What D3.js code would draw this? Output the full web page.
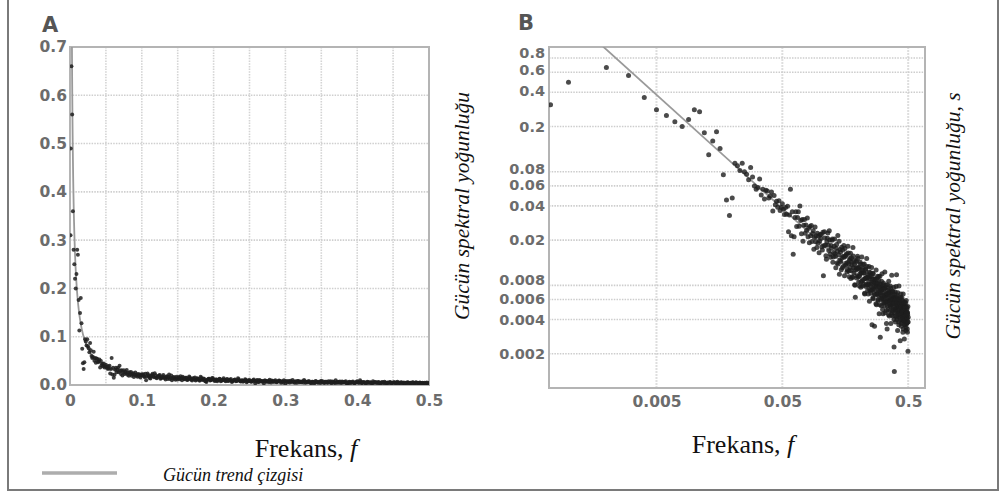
<!DOCTYPE html>
<html><head><meta charset="utf-8">
<script src="https://cdn.jsdelivr.net/npm/d3@7"></script>
<style>
html,body{margin:0;padding:0;background:#fff;}
svg{display:block;}
</style></head><body>
<svg id="chart" width="1001" height="492"></svg>
<script>
// ---------- data ----------
const freq = [
0.00072,
0.001,0.002,0.003,0.004,0.005,0.006,0.007,0.008,0.009,0.010,
0.011,0.012,0.013,0.014,0.015,0.016,0.017,0.018,0.019,0.020,
0.021,0.022,0.023,0.024,0.025,0.026,0.027,0.028,0.029,0.030,
0.031,0.032,0.033,0.034,0.035,0.036,0.037,0.038,0.039,0.040,
0.041,0.042,0.043,0.044,0.045,0.046,0.047,0.048,0.049,0.050,
0.051,0.052,0.053,0.054,0.055,0.056,0.057,0.058,0.059,0.060,
0.061,0.062,0.063,0.064,0.065,0.066,0.067,0.068,0.069,0.070,
0.071,0.072,0.073,0.074,0.075,0.076,0.077,0.078,0.079,0.080,
0.081,0.082,0.083,0.084,0.085,0.086,0.087,0.088,0.089,0.090,
0.091,0.092,0.093,0.094,0.095,0.096,0.097,0.098,0.099,0.100,
0.102,0.104,0.106,0.108,0.110,0.112,0.114,0.116,0.118,0.120,
0.122,0.124,0.126,0.128,0.130,0.132,0.134,0.136,0.138,0.140,
0.142,0.144,0.146,0.148,0.150,0.152,0.154,0.156,0.158,0.160,
0.162,0.164,0.166,0.168,0.170,0.172,0.174,0.176,0.178,0.180,
0.182,0.184,0.186,0.188,0.190,0.192,0.194,0.196,0.198,0.200,
0.202,0.204,0.206,0.208,0.210,0.212,0.214,0.216,0.218,0.220,
0.222,0.224,0.226,0.228,0.230,0.232,0.234,0.236,0.238,0.240,
0.242,0.244,0.246,0.248,0.250,0.252,0.254,0.256,0.258,0.260,
0.262,0.264,0.266,0.268,0.270,0.272,0.274,0.276,0.278,0.280,
0.282,0.284,0.286,0.288,0.290,0.292,0.294,0.296,0.298,0.300,
0.302,0.304,0.306,0.308,0.310,0.312,0.314,0.316,0.318,0.320,
0.322,0.324,0.326,0.328,0.330,0.332,0.334,0.336,0.338,0.340,
0.342,0.344,0.346,0.348,0.350,0.352,0.354,0.356,0.358,0.360,
0.362,0.364,0.366,0.368,0.370,0.372,0.374,0.376,0.378,0.380,
0.382,0.384,0.386,0.388,0.390,0.392,0.394,0.396,0.398,0.400,
0.402,0.404,0.406,0.408,0.410,0.412,0.414,0.416,0.418,0.420,
0.422,0.424,0.426,0.428,0.430,0.432,0.434,0.436,0.438,0.440,
0.442,0.444,0.446,0.448,0.450,0.452,0.454,0.456,0.458,0.460,
0.462,0.464,0.466,0.468,0.470,0.472,0.474,0.476,0.478,0.480,
0.482,0.484,0.486,0.488,0.490,0.492,0.494,0.496,0.498,0.500,
0.101,0.103,0.105,0.107,0.109,0.111,0.113,0.115,0.117,0.119,
0.121,0.123,0.125,0.127,0.129,0.131,0.133,0.135,0.137,0.139,
0.141,0.143,0.145,0.147,0.149,0.151,0.153,0.155,0.157,0.159,
0.161,0.163,0.165,0.167,0.169,0.171,0.173,0.175,0.177,0.179,
0.181,0.183,0.185,0.187,0.189,0.191,0.193,0.195,0.197,0.199,
0.201,0.203,0.205,0.207,0.209,0.211,0.213,0.215,0.217,0.219,
0.221,0.223,0.225,0.227,0.229,0.231,0.233,0.235,0.237,0.239,
0.241,0.243,0.245,0.247,0.249,0.251,0.253,0.255,0.257,0.259,
0.261,0.263,0.265,0.267,0.269,0.271,0.273,0.275,0.277,0.279,
0.281,0.283,0.285,0.287,0.289,0.291,0.293,0.295,0.297,0.299,
0.301,0.303,0.305,0.307,0.309,0.311,0.313,0.315,0.317,0.319,
0.321,0.323,0.325,0.327,0.329,0.331,0.333,0.335,0.337,0.339,
0.341,0.343,0.345,0.347,0.349,0.351,0.353,0.355,0.357,0.359,
0.361,0.363,0.365,0.367,0.369,0.371,0.373,0.375,0.377,0.379,
0.381,0.383,0.385,0.387,0.389,0.391,0.393,0.395,0.397,0.399,
0.401,0.403,0.405,0.407,0.409,0.411,0.413,0.415,0.417,0.419,
0.421,0.423,0.425,0.427,0.429,0.431,0.433,0.435,0.437,0.439,
0.441,0.443,0.445,0.447,0.449,0.451,0.453,0.455,0.457,0.459,
0.461,0.463,0.465,0.467,0.469,0.471,0.473,0.475,0.477,0.479,
0.481,0.483,0.485,0.487,0.489,0.491,0.493,0.495,0.497,0.499
];
const power = [
0.31,
0.49,0.66,0.56,0.36,0.28,0.25,0.22,0.20,0.23,0.28,
0.27,0.176,0.113,0.149,0.18,0.128,0.075,0.045,0.033,0.047,
0.095,0.09,0.082,0.095,0.08,0.076,0.068,0.087,0.072,0.060,
0.056,0.058,0.069,0.050,0.056,0.046,0.055,0.054,0.047,0.049,
0.053,0.036,0.0495,0.041,0.044,0.039,0.0445,0.0364,0.0388,0.0418,
0.0373,0.0336,0.0387,0.0338,0.0397,0.0237,0.0333,0.056,0.0219,0.0355,
0.015,0.0214,0.0317,0.0356,0.0263,0.0317,0.0355,0.0265,0.0399,0.0298,
0.0228,0.0304,0.0195,0.027,0.0304,0.023,0.0272,0.0244,0.0313,0.0214,
0.0254,0.019,0.0263,0.0219,0.0269,0.0194,0.0229,0.0242,0.0166,0.0211,
0.0261,0.0193,0.0218,0.0172,0.023,0.0188,0.0216,0.0155,0.0196,0.0224,
0.0224,0.0164,0.0097,0.0237,0.0181,0.0136,0.0208,0.018,0.0242,0.015,
0.0179,0.0199,0.0128,0.0156,0.0205,0.0144,0.017,0.0126,0.022,0.0149,
0.01,0.0165,0.013,0.0173,0.0114,0.0144,0.0179,0.0097,0.0144,0.0125,
0.0152,0.011,0.0177,0.0124,0.0095,0.0138,0.0153,0.0108,0.0128,0.0095,
0.0172,0.0114,0.0133,0.0081,0.0063,0.0114,0.0132,0.0097,0.0144,0.0114,
0.0085,0.0116,0.0097,0.0128,0.0077,0.0103,0.0142,0.0088,0.0113,0.0082,
0.0103,0.0123,0.0067,0.0092,0.0112,0.0082,0.0138,0.0093,0.0072,0.0099,
0.0082,0.0117,0.0058,0.0092,0.0103,0.0072,0.0082,0.0115,0.0036,0.0091,
0.0062,0.0101,0.0075,0.0085,0.0035,0.0091,0.0066,0.0079,0.0109,0.0054,
0.0084,0.0067,0.0096,0.0059,0.0079,0.0088,0.0045,0.0071,0.0096,0.0028,
0.0066,0.0081,0.0053,0.0074,0.0101,0.0061,0.0076,0.0045,0.0084,0.0065,
0.0056,0.0076,0.0105,0.0046,0.0066,0.0077,0.0057,0.0037,0.0067,0.0033,
0.0081,0.0058,0.0049,0.0068,0.0087,0.0059,0.0043,0.0069,0.0053,0.0079,
0.006,0.0037,0.007,0.0054,0.0098,0.0046,0.0061,0.0071,0.0043,0.0063,
0.0055,0.0077,0.0023,0.0014,0.0063,0.0049,0.007,0.0038,0.0057,0.0078,
0.005,0.0099,0.0042,0.0063,0.0053,0.0032,0.0069,0.0046,0.0057,0.0038,
0.0079,0.0049,0.0058,0.0042,0.0062,0.0026,0.0053,0.0046,0.0067,0.0035,
0.0054,0.0043,0.0062,0.0038,0.0049,0.0057,0.0031,0.0067,0.0046,0.0039,
0.0053,0.0043,0.0027,0.0049,0.0057,0.0036,0.0046,0.004,0.0052,0.0032,
0.0059,0.0043,0.0037,0.0049,0.0041,0.0033,0.0046,0.0038,0.0021,0.0042,
0.0207,0.0175,0.0235,0.0178,0.0209,0.0146,0.0193,0.0231,0.0162,0.02,
0.0141,0.017,0.0205,0.0142,0.0177,0.0152,0.0114,0.0183,0.016,0.0123,
0.0195,0.0133,0.0157,0.011,0.014,0.0164,0.0118,0.0141,0.0169,0.012,
0.0148,0.0105,0.0127,0.0154,0.0107,0.0133,0.0115,0.0092,0.014,0.0122,
0.0094,0.0145,0.0103,0.0122,0.008,0.0109,0.0128,0.0093,0.0111,0.0138,
0.0095,0.0112,0.0079,0.0101,0.0123,0.0086,0.0103,0.011,0.0079,0.0122,
0.009,0.0102,0.0068,0.0092,0.0108,0.0078,0.0094,0.0117,0.008,0.0095,
0.0067,0.0086,0.0105,0.0073,0.0095,0.0079,0.0068,0.0097,0.0085,0.0073,
0.0102,0.0061,0.0086,0.0078,0.0067,0.0091,0.0073,0.0083,0.0055,0.0078,
0.0091,0.0067,0.0083,0.006,0.0072,0.0095,0.0065,0.0077,0.0054,0.0073,
0.0082,0.006,0.0069,0.0087,0.0062,0.0073,0.0049,0.0069,0.0081,0.0057,
0.0074,0.0062,0.0053,0.0076,0.0064,0.0057,0.008,0.0048,0.0068,0.0062,
0.0053,0.0072,0.0058,0.0066,0.0044,0.0062,0.0073,0.0054,0.0067,0.0048,
0.0058,0.0076,0.0052,0.0062,0.0044,0.0059,0.0066,0.0048,0.0055,0.007,
0.005,0.006,0.004,0.0056,0.0066,0.0046,0.006,0.005,0.0043,0.0062,
0.0052,0.0047,0.0066,0.004,0.0056,0.0053,0.0044,0.006,0.0048,0.0054,
0.0036,0.0052,0.006,0.0045,0.0055,0.004,0.0048,0.0063,0.0044,0.0052,
0.0037,0.0049,0.0056,0.004,0.0047,0.0059,0.0042,0.005,0.0033,0.0048,
0.0056,0.0039,0.0051,0.0043,0.0036,0.0052,0.0044,0.004,0.0056,0.0034,
0.0047,0.0045,0.0037,0.0051,0.0041,0.0046,0.0031,0.0044,0.0052,0.0038
];
// trend line  s = coef * f^exp
const trendCoef = 0.0019;
const trendExp = -1;
const trendEnd = 0.5;

const yTicksA = [0,0.1,0.2,0.3,0.4,0.5,0.6,0.7];
const yLabelsA = ["0.0","0.1","0.2","0.3","0.4","0.5","0.6","0.7"];
const xTicksA = [0,0.1,0.2,0.3,0.4,0.5];
const xLabelsA = ["0","0.1","0.2","0.3","0.4","0.5"];
const xGridA = [0.05,0.1,0.15,0.2,0.25,0.3,0.35,0.4,0.45];

const yTicksB = [0.8,0.6,0.4,0.2,0.08,0.06,0.04,0.02,0.008,0.006,0.004,0.002];
const yLabelsB = ["0.8","0.6","0.4","0.2","0.08","0.06","0.04","0.02","0.008","0.006","0.004","0.002"];
const xTicksB = [0.005,0.05,0.5];
const xLabelsB = ["0.005","0.05","0.5"];

const panelNames = ["A","B"];
const xTitleText = "Frekans, ";
const xTitleVar = "f";
const yTitleA = "Gücün spektral yoğunluğu";
const yTitleB = "Gücün spektral yoğunluğu, s";
const legendLabel = "Gücün trend çizgisi";

// ---------- drawing ----------
const n = Math.min(freq.length, power.length);
const pts = d3.range(n).map(i => ({f: freq[i], s: power[i]}));
const svg = d3.select("#chart");

const TICKFONT = "'DejaVu Sans', Verdana, sans-serif";
const SERIF = "'Liberation Serif', 'Times New Roman', serif";
const tickColor = "#6c6c6c";
// vertical nudges (px) of the crowded B labels, as in the reference
const nudgeB = [-5,-2,-1,0,-3,-1,0,0,-5,-1,0,0];

svg.append("path").attr("d","M8,-2 V490 H998 V-2")
  .attr("fill","none").attr("stroke","#7a7a7a").attr("stroke-width",2);

const xA = d3.scaleLinear().domain([0,0.5]).range([70,429]);
const yA = d3.scaleLinear().domain([0,0.7]).range([385,47]);
const xB = d3.scaleLog().domain([0.0007,0.68]).range([549,925]);
const yB = d3.scaleLog().domain([0.001,1]).range([388,47]);

const defs = svg.append("defs");
defs.append("clipPath").attr("id","clipA").append("rect")
  .attr("x",70).attr("y",47).attr("width",359).attr("height",338);
defs.append("clipPath").attr("id","clipB").append("rect")
  .attr("x",549).attr("y",47).attr("width",376).attr("height",341);

function styleAxis(size){
  return g => {
    g.select(".domain").remove();
    g.selectAll("line").remove();
    g.selectAll("text").attr("font-family",TICKFONT).attr("font-weight","bold")
      .attr("font-size",size).attr("fill",tickColor);
  };
}

// ---- Panel A ----
const gA = svg.append("g");
gA.selectAll(".gxA").data(xGridA).join("line")
  .attr("x1",d=>xA(d)).attr("x2",d=>xA(d)).attr("y1",47).attr("y2",385)
  .attr("stroke","#d4d4d4").attr("stroke-width",1.6).attr("stroke-dasharray","1.5,1.2");
gA.selectAll(".gyA").data(yTicksA.slice(1,-1)).join("line")
  .attr("x1",70).attr("x2",429).attr("y1",d=>yA(d)).attr("y2",d=>yA(d))
  .attr("stroke","#cfcfcf").attr("stroke-width",1.6).attr("stroke-dasharray","1.5,1.2");
gA.append("rect").attr("x",70).attr("y",47).attr("width",359).attr("height",338)
  .attr("fill","none").attr("stroke","#b4b4b4").attr("stroke-width",2);
gA.append("g").attr("transform","translate(70,0)")
  .call(d3.axisLeft(yA).tickValues(yTicksA).tickFormat((d,i)=>yLabelsA[i]).tickSize(0).tickPadding(3))
  .call(styleAxis(15.5));
gA.append("g").attr("transform","translate(0,385)")
  .call(d3.axisBottom(xA).tickValues(xTicksA).tickFormat((d,i)=>xLabelsA[i]).tickSize(0).tickPadding(10))
  .call(styleAxis(15.5));
const trendLA = d3.range(0, 1.0001, 0.005).map(t => {
  const lo = Math.log10(0.0024), hi = Math.log10(trendEnd);
  const f = Math.pow(10, lo + (hi-lo)*t);
  return {f, s: trendCoef*Math.pow(f,trendExp)};
});
gA.append("path").datum(trendLA).attr("clip-path","url(#clipA)")
  .attr("d", d3.line().x(d=>xA(d.f)).y(d=>yA(d.s)))
  .attr("fill","none").attr("stroke","#9a9a9a").attr("stroke-width",1.8);
gA.append("g").attr("clip-path","url(#clipA)").selectAll("circle").data(pts).join("circle")
  .attr("cx",d=>xA(d.f)).attr("cy",d=>yA(d.s)).attr("r",2)
  .attr("fill","#1e1e1e").attr("fill-opacity",0.85);

// ---- Panel B ----
const gB = svg.append("g");
gB.selectAll(".gxB").data(xTicksB).join("line")
  .attr("x1",d=>xB(d)).attr("x2",d=>xB(d)).attr("y1",47).attr("y2",388)
  .attr("stroke","#dedede").attr("stroke-width",2).attr("stroke-dasharray","2,1");
gB.selectAll(".gyB").data(yTicksB).join("line")
  .attr("x1",549).attr("x2",925).attr("y1",d=>yB(d)).attr("y2",d=>yB(d))
  .attr("stroke","#cdcdcd").attr("stroke-width",1.6).attr("stroke-dasharray","1.5,1.2");
gB.append("rect").attr("x",549).attr("y",47).attr("width",376).attr("height",341)
  .attr("fill","none").attr("stroke","#b4b4b4").attr("stroke-width",2);
const yAxB = gB.append("g").attr("transform","translate(549,0)")
  .call(d3.axisLeft(yB).tickValues(yTicksB).tickFormat((d,i)=>yLabelsB[i]).tickSize(0).tickPadding(4))
  .call(styleAxis(14.5));
yAxB.selectAll("text").attr("transform",(d,i)=>`translate(0,${nudgeB[i]})`);
gB.append("g").attr("transform","translate(0,388)")
  .call(d3.axisBottom(xB).tickValues(xTicksB).tickFormat((d,i)=>xLabelsB[i]).tickSize(0).tickPadding(8))
  .call(styleAxis(15.5));
const trendLB = [0.0015, trendEnd].map(f => ({f, s: trendCoef*Math.pow(f,trendExp)}));
gB.append("path").datum(trendLB).attr("clip-path","url(#clipB)")
  .attr("d", d3.line().x(d=>xB(d.f)).y(d=>yB(d.s)))
  .attr("fill","none").attr("stroke","#9a9a9a").attr("stroke-width",1.8);
gB.append("g").attr("clip-path","url(#clipB)").selectAll("circle").data(pts).join("circle")
  .attr("cx",d=>xB(d.f)).attr("cy",d=>yB(d.s)).attr("r",2.5)
  .attr("fill","#1e1e1e").attr("fill-opacity",0.8);

// ---- panel letters ----
svg.selectAll(".plab").data(panelNames).join("text")
  .attr("x",(d,i)=>i===0?42:518).attr("y",(d,i)=>i===0?32:30)
  .attr("font-family",TICKFONT).attr("font-weight","bold").attr("font-size",21)
  .attr("fill","#555").text(d=>d);

// ---- axis titles ----
function xTitle(cx, by){
  const t = svg.append("text").attr("x",cx).attr("y",by).attr("text-anchor","middle")
    .attr("font-family",SERIF).attr("font-size",26).attr("fill","#111");
  t.append("tspan").text(xTitleText);
  t.append("tspan").attr("font-style","italic").text(xTitleVar);
}
xTitle(306, 457);
xTitle(743, 453);

function yTitle(cx, cy, txt){
  svg.append("text").attr("transform",`translate(${cx},${cy}) rotate(-90)`)
    .attr("text-anchor","middle").attr("dominant-baseline","central")
    .attr("font-family",SERIF).attr("font-style","italic").attr("font-size",21.5)
    .attr("fill","#111").text(txt);
}
yTitle(462, 206, yTitleA);
yTitle(953, 216, yTitleB);

// ---- legend ----
svg.append("line").attr("x1",42).attr("x2",117).attr("y1",473).attr("y2",473)
  .attr("stroke","#adadad").attr("stroke-width",3.5);
svg.append("text").attr("x",163).attr("y",481).attr("font-family",SERIF)
  .attr("font-style","italic").attr("font-size",18).attr("fill","#111").text(legendLabel);
</script>
</body></html>
